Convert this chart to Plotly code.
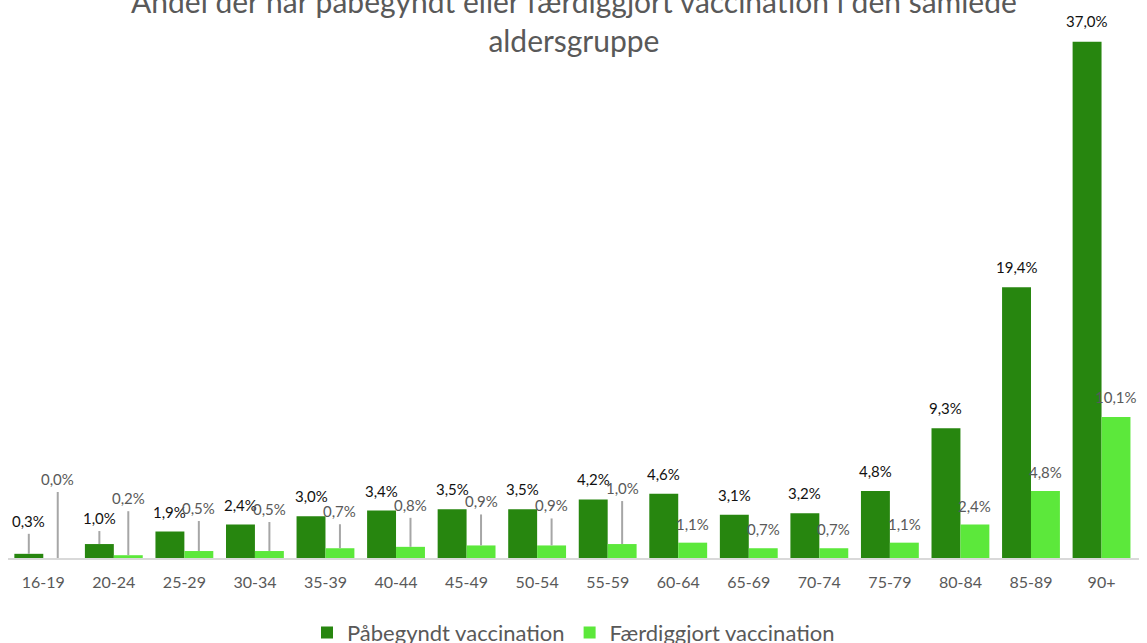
import plotly.graph_objects as go

categories = ["16-19", "20-24", "25-29", "30-34", "35-39", "40-44", "45-49", "50-54",
              "55-59", "60-64", "65-69", "70-74", "75-79", "80-84", "85-89", "90+"]
started = [0.3, 1.0, 1.9, 2.4, 3.0, 3.4, 3.5, 3.5, 4.2, 4.6, 3.1, 3.2, 4.8, 9.3, 19.4, 37.0]
completed = [0.0, 0.2, 0.5, 0.5, 0.7, 0.8, 0.9, 0.9, 1.0, 1.1, 0.7, 0.7, 1.1, 2.4, 4.8, 10.1]

# label lift above bar top (pixels) - styling only
started_lift = [33, 26, 20, 20, 20, 20, 20, 20, 20, 20, 20, 20, 20, 20, 20, 21]
completed_lift = [79, 57, 43, 42, 37, 42, 44, 40, 56, 19, 19, 19, 19, 19, 19, 20]

DARK = "#27860F"
LIGHT = "#5CE83B"
FONT = "Lato, Carlito, 'Open Sans', sans-serif"

def fmt(v):
    return f"{v:.1f}".replace(".", ",") + "%"

fig = go.Figure()
fig.add_trace(go.Bar(x=categories, y=started, name="Påbegyndt vaccination",
                     marker=dict(color=DARK, line=dict(width=0))))
fig.add_trace(go.Bar(x=categories, y=completed, name="Færdiggjort vaccination",
                     marker=dict(color=LIGHT, line=dict(width=0))))

annotations = []
shapes = []
half = 0.205
for i, c in enumerate(categories):
    for vals, lifts, sign, color in ((started, started_lift, -1, "#111111"),
                                     (completed, completed_lift, 1, "#595959")):
        v = vals[i]
        lift = lifts[i]
        annotations.append(dict(x=i + sign * half, y=v, xref="x", yref="y",
                                text=fmt(v), showarrow=False, yanchor="middle",
                                yshift=lift, font=dict(family=FONT, size=15, color=color)))
        if lift > 24:
            shapes.append(dict(type="line", xref="x", yref="y", ysizemode="pixel",
                               yanchor=v, x0=i + sign * half, x1=i + sign * half,
                               y0=0, y1=lift - 13,
                               line=dict(color="#A6A6A6", width=2)))

annotations.append(dict(x=0.5, y=1, xref="paper", yref="paper", yanchor="middle",
                        yshift=-20, showarrow=False,
                        text="Andel der har påbegyndt eller færdiggjort vaccination i den samlede<br>aldersgruppe",
                        font=dict(family=FONT, size=30, color="#595959")))

fig.update_layout(
    width=1147, height=643,
    margin=dict(l=8, r=8, t=0, b=85, autoexpand=False),
    paper_bgcolor="white", plot_bgcolor="white",
    barmode="group", bargap=0.18, bargroupgap=0,
    showlegend=True,
    legend=dict(orientation="h", x=0.5, xanchor="center", y=-0.134, yanchor="middle",
                font=dict(family=FONT, size=22, color="#595959"), itemwidth=30),
    annotations=annotations, shapes=shapes,
    xaxis=dict(type="category", showline=True, linecolor="#D9D9D9", linewidth=2,
               ticks="", showgrid=False, ticklabelstandoff=9, automargin=False,
               tickfont=dict(family=FONT, size=16, color="#595959")),
    yaxis=dict(range=[0, 40], visible=False, showgrid=False, zeroline=False),
)

fig.write_html("out.html", config={"displayModeBar": False},
               post_script="document.body.style.margin='0';")
